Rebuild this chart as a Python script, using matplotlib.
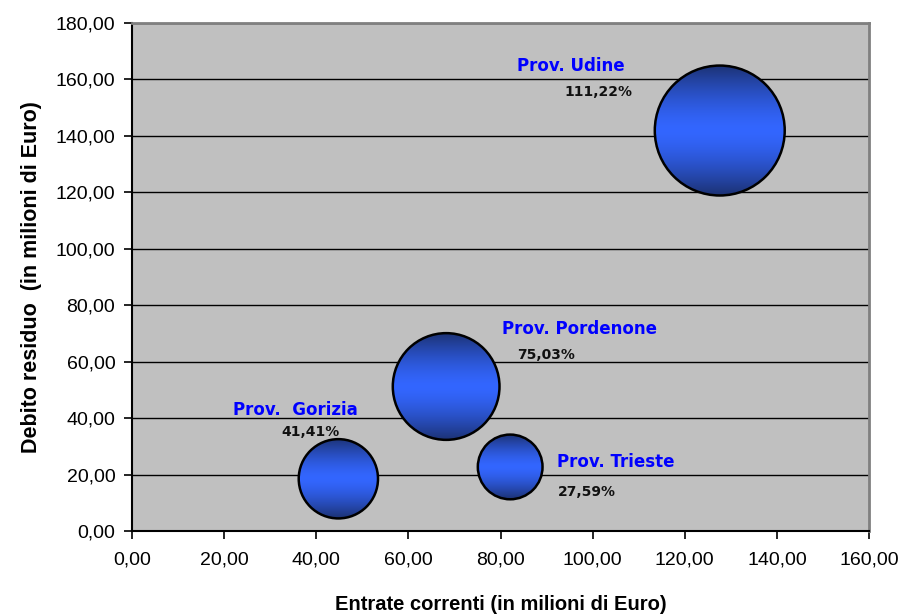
import numpy as np
import matplotlib
matplotlib.use("Agg")
import matplotlib.pyplot as plt
from matplotlib.patches import Ellipse
from matplotlib.colors import to_rgb

# Province data: current revenues (x), residual debt (y), debt / revenue ratio (bubble size)
provinces = ["Prov. Udine", "Prov. Pordenone", "Prov.  Gorizia", "Prov. Trieste"]
entrate = [127.6, 68.2, 44.8, 82.1]
debito = [141.9, 51.2, 18.5, 22.7]
rapporto = [111.22, 75.03, 41.41, 27.59]
rapporto_labels = ["111,22%", "75,03%", "41,41%", "27,59%"]

x_ticks = [0, 20, 40, 60, 80, 100, 120, 140, 160]
y_ticks = [0, 20, 40, 60, 80, 100, 120, 140, 160, 180]
x_tick_labels = ["0,00", "20,00", "40,00", "60,00", "80,00", "100,00", "120,00", "140,00", "160,00"]
y_tick_labels = ["0,00", "20,00", "40,00", "60,00", "80,00", "100,00", "120,00", "140,00", "160,00", "180,00"]

# label placement (offset in points from the bubble centre)
name_offsets = [(-107, 43), (96, 38), (-31, 46), (76, 0)]
pct_offsets = [(-87, 25), (72, 20), (-20, 31), (55, -21)]

DPI = 100
fig = plt.figure(figsize=(9.05, 6.14), dpi=DPI)
ax = fig.add_axes([132 / 905, 83 / 614, 737 / 905, 508 / 614])
ax.set_facecolor("#C0C0C0")
ax.set_xlim(0, 160)
ax.set_ylim(0, 180)

# pixel scale of the data axes, so bubbles stay round
ax_w_px = 737
ax_h_px = 508
sx = ax_w_px / 160.0
sy = ax_h_px / 180.0
k = 6.16  # bubble radius in pixels per sqrt(ratio)

# vertical gradient: dark navy at the rim, bright blue in the middle
dark = np.array(to_rgb("#1c3274"))
bright = np.array(to_rgb("#3366ff"))
t = np.linspace(0, 1, 256)
w = np.abs(t - 0.5) * 2
w = w ** 1.5
grad = (bright[None, :] * (1 - w[:, None]) + dark[None, :] * w[:, None])[:, None, :]

for xv, yv, rv in zip(entrate, debito, rapporto):
    r_px = k * np.sqrt(rv)
    wd = r_px / sx
    ht = r_px / sy
    ell = Ellipse((xv, yv), 2 * wd, 2 * ht, facecolor="none", edgecolor="black",
                  linewidth=1.8, zorder=4)
    ax.add_patch(ell)
    im = ax.imshow(grad, extent=[xv - wd, xv + wd, yv - ht, yv + ht], aspect="auto",
                   origin="upper", zorder=3, interpolation="bilinear")
    im.set_clip_path(ell)

ax.set_xlim(0, 160)
ax.set_ylim(0, 180)

for xv, yv, name, pl, no, po in zip(entrate, debito, provinces, rapporto_labels,
                                     name_offsets, pct_offsets):
    ax.annotate(name, (xv, yv), xytext=no, textcoords="offset points",
                ha="center", va="baseline", color="#0000ff", fontsize=12,
                fontweight="bold", family="DejaVu Sans", zorder=6)
    ax.annotate(pl, (xv, yv), xytext=po, textcoords="offset points",
                ha="center", va="baseline", color="#111111", fontsize=10,
                fontweight="bold", family="DejaVu Sans", zorder=6)

# horizontal gridlines
ax.set_yticks(y_ticks)
ax.set_yticklabels(y_tick_labels)
ax.set_xticks(x_ticks)
ax.set_xticklabels(x_tick_labels)
ax.yaxis.grid(True, color="black", linewidth=1.0)
ax.set_axisbelow(True)

for lab in ax.get_yticklabels():
    lab.set_family("Liberation Sans")
    lab.set_fontsize(14)
for lab in ax.get_xticklabels():
    lab.set_family("Liberation Sans")
    lab.set_fontsize(14)

ax.tick_params(axis="both", direction="out", length=6, width=1.2, color="black")
ax.tick_params(axis="x", pad=9)
ax.tick_params(axis="y", pad=6)

ax.spines["left"].set_color("black")
ax.spines["left"].set_linewidth(1.5)
ax.spines["bottom"].set_color("black")
ax.spines["bottom"].set_linewidth(1.5)
ax.spines["top"].set_color("#808080")
ax.spines["top"].set_linewidth(2)
ax.spines["right"].set_color("#808080")
ax.spines["right"].set_linewidth(2)

ax.set_xlabel("Entrate correnti (in milioni di Euro)", fontsize=14.5, fontweight="bold",
              family="Liberation Sans", labelpad=19)
ax.set_ylabel("Debito residuo  (in milioni di Euro)", fontsize=15.5, fontweight="bold",
              family="Liberation Sans", labelpad=10)

fig.savefig("out.png", dpi=DPI)
